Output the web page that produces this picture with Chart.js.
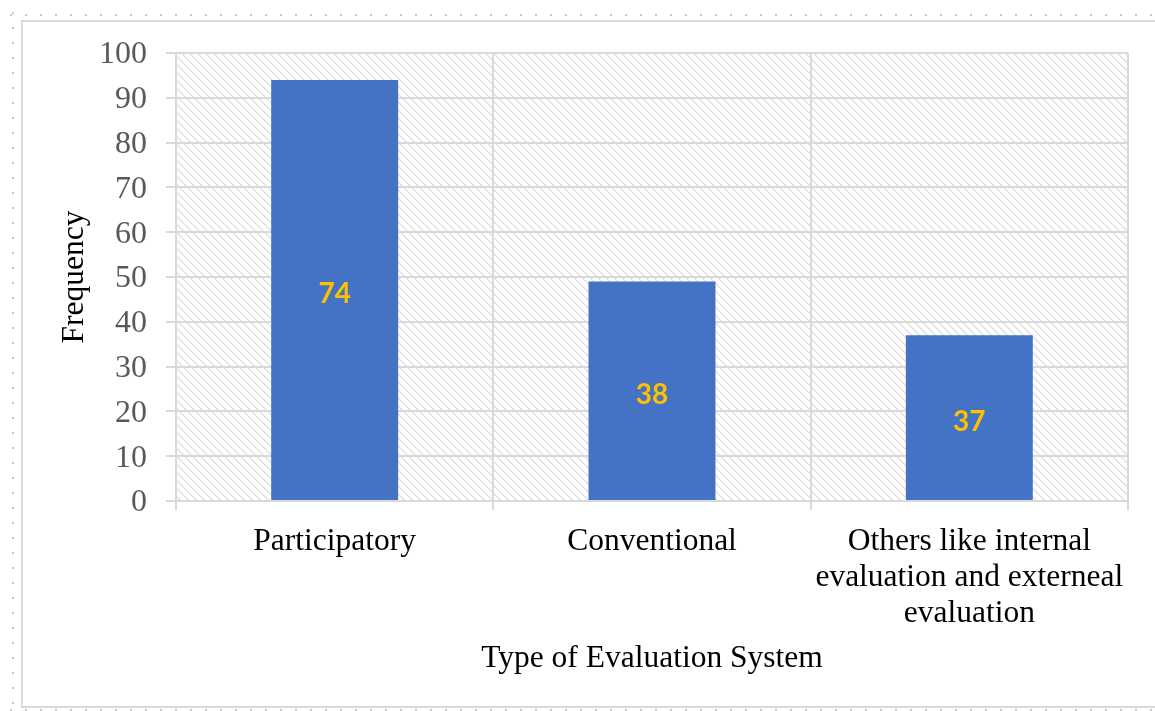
<!DOCTYPE html>
<html>
<head>
<meta charset="utf-8">
<script src="https://cdn.jsdelivr.net/npm/chart.js@4/dist/chart.umd.min.js"></script>
<style>
  html, body { margin: 0; padding: 0; background: #ffffff; }
  #wrap { width: 1155px; height: 711px; position: relative; }
</style>
</head>
<body>
<div id="wrap"><canvas id="c" width="1155" height="711"></canvas></div>
<script>
// ---- data ----
const categories = [
  "Participatory",
  "Conventional",
  ["Others like internal", "evaluation and externeal", "evaluation"]
];
const barValues = [94, 49, 37];          // bar heights as drawn
const barLabels = ["74", "38", "37"];    // data label texts shown in the bars
const yTicks = [0, 10, 20, 30, 40, 50, 60, 70, 80, 90, 100];
const yTitle = "Frequency";
const xTitle = "Type of Evaluation System";

// ---- hatch pattern for plot area ----
function makeHatch() {
  const t = document.createElement('canvas');
  t.width = 8; t.height = 8;
  const g = t.getContext('2d');
  g.fillStyle = '#ffffff';
  g.fillRect(0, 0, 8, 8);
  for (let i = 0; i < 8; i++) {
    g.fillStyle = '#dadada';
    g.fillRect(i, i, 1, 1);
    g.fillStyle = '#ebebeb';
    g.fillRect((i + 1) % 8, i, 1, 1);
  }
  return t;
}
const hatchTile = makeHatch();

const framePlugin = {
  id: 'frame',
  beforeDraw(chart) {
    const ctx = chart.ctx;
    ctx.save();
    ctx.fillStyle = '#ffffff';
    ctx.fillRect(0, 0, chart.width, chart.height);
    // dotted outer marks
    ctx.strokeStyle = '#c8c8c8';
    ctx.lineWidth = 2;
    ctx.setLineDash([2, 13]);
    ctx.beginPath();
    ctx.moveTo(10, 15); ctx.lineTo(chart.width, 15);
    ctx.moveTo(13, 12); ctx.lineTo(13, chart.height);
    ctx.moveTo(10, 710); ctx.lineTo(chart.width, 710);
    ctx.stroke();
    ctx.setLineDash([]);
    // solid light frame
    ctx.strokeStyle = '#d9d9d9';
    ctx.lineWidth = 2;
    ctx.beginPath();
    ctx.moveTo(chart.width + 2, 21); ctx.lineTo(22, 21); ctx.lineTo(22, 707); ctx.lineTo(chart.width + 2, 707);
    ctx.stroke();
    // hatched plot background
    const a = chart.chartArea;
    ctx.fillStyle = ctx.createPattern(hatchTile, 'repeat');
    ctx.fillRect(a.left, a.top, a.right - a.left, a.bottom - a.top);
    ctx.restore();
  }
};

const labelPlugin = {
  id: 'barLabels',
  afterDatasetsDraw(chart) {
    const ctx = chart.ctx;
    const meta = chart.getDatasetMeta(0);
    ctx.save();
    ctx.font = 'bold 28px Lato, "Open Sans", sans-serif';
    ctx.fillStyle = '#FFC000';
    ctx.textAlign = 'center';
    ctx.textBaseline = 'middle';
    meta.data.forEach((bar, i) => {
      const p = bar.getProps(['x', 'y', 'base'], true);
      ctx.fillText(barLabels[i], p.x, (p.y + p.base) / 2 + 4);
    });
    ctx.restore();
  }
};

const serif = 'Liberation Serif, "Times New Roman", serif';

new Chart(document.getElementById('c'), {
  type: 'bar',
  data: {
    labels: categories,
    datasets: [{
      data: barValues,
      backgroundColor: '#4472C4',
      borderWidth: 0,
      barPercentage: 0.4,
      categoryPercentage: 1.0
    }]
  },
  options: {
    responsive: false,
    animation: false,
    events: [],
    layout: { padding: { left: 23, top: 53, right: 27, bottom: 30 } },
    plugins: {
      legend: { display: false },
      tooltip: { enabled: false },
      title: { display: false }
    },
    scales: {
      x: {
        offset: true,
        grid: {
          offset: true,
          color: '#d9d9d9',
          lineWidth: 2,
          drawTicks: true,
          tickLength: 9,
          tickColor: '#d9d9d9'
        },
        border: { display: true, color: '#d9d9d9', width: 2 },
        ticks: {
          color: '#000000',
          font: { family: serif, size: 31.5, lineHeight: '36px' },
          padding: 14,
          maxRotation: 0,
          autoSkip: false
        },
        title: {
          display: true,
          text: xTitle,
          color: '#000000',
          font: { family: serif, size: 31.5, lineHeight: '36px' },
          padding: { top: 0, bottom: 4 }
        },
        afterFit(scale) { scale.height = 180; }
      },
      y: {
        min: 0,
        max: 100,
        afterBuildTicks(scale) { scale.ticks = yTicks.map(v => ({ value: v })); },
        grid: {
          color: '#d9d9d9',
          lineWidth: 2,
          drawTicks: true,
          tickLength: 10,
          tickColor: '#d9d9d9'
        },
        border: { display: true, color: '#d9d9d9', width: 2 },
        ticks: {
          color: '#595959',
          font: { family: serif, size: 32, lineHeight: '36px' },
          padding: 19,
          labelOffset: 2
        },
        title: {
          display: true,
          text: yTitle,
          color: '#000000',
          font: { family: serif, size: 31.5, lineHeight: '36px' },
          padding: { top: 34, bottom: 0 }
        },
        afterFit(scale) { scale.width = 153; }
      }
    }
  },
  plugins: [framePlugin, labelPlugin]
});
</script>
</body>
</html>
